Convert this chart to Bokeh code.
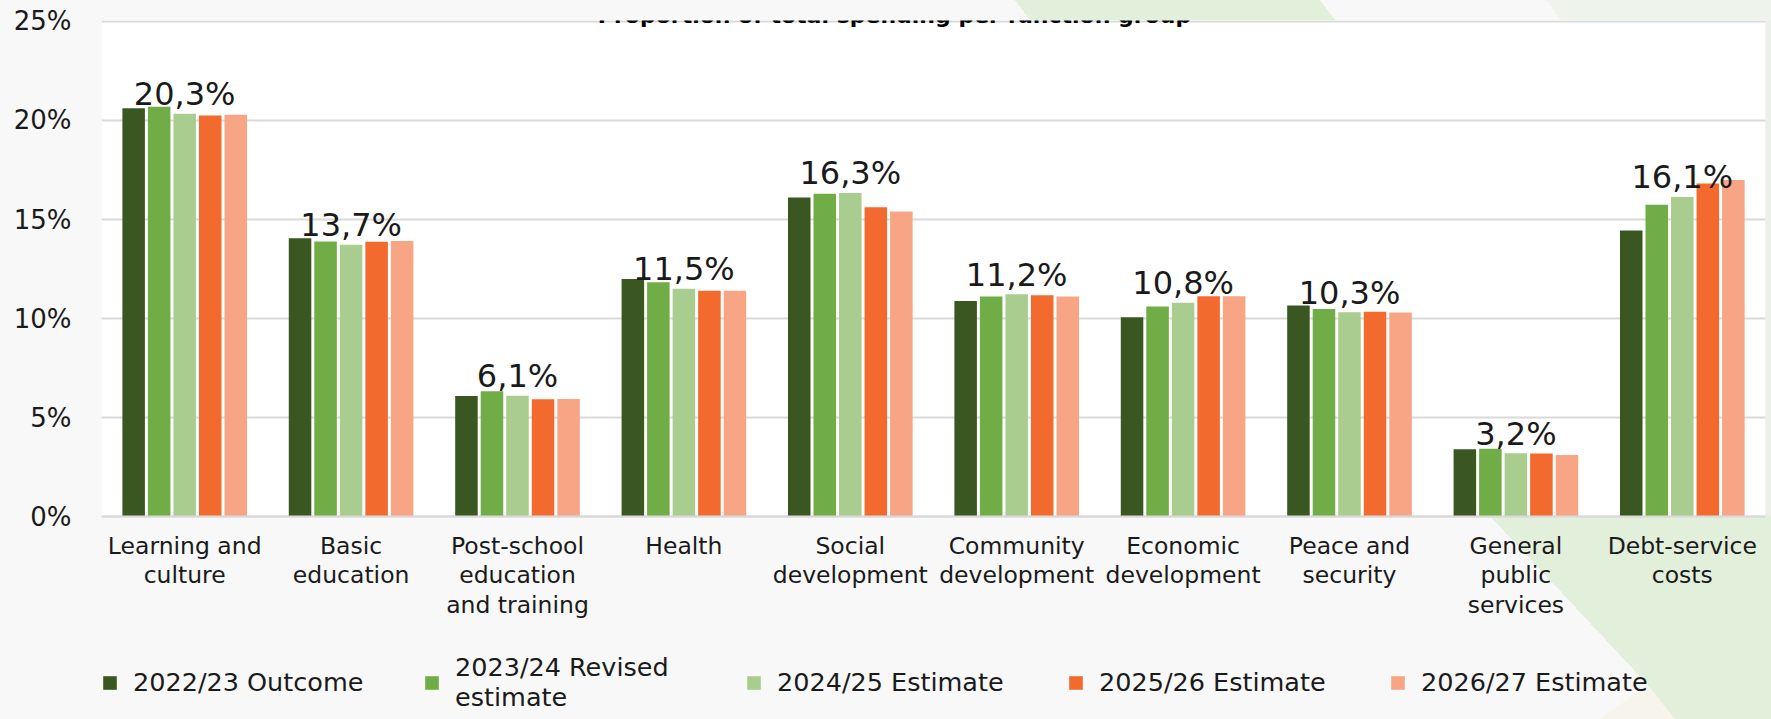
from bokeh.plotting import figure
from bokeh.models import (ColumnDataSource, FactorRange, Range1d, FixedTicker,
                          Legend, LegendItem, Label, BoxAnnotation)
from bokeh.transform import dodge
from bokeh.core.properties import value
from bokeh.embed import file_html
from bokeh.resources import INLINE

# ---------------- data ----------------
categories = [
    "Learning and\nculture",
    "Basic\neducation",
    "Post-school\neducation\nand training",
    "Health",
    "Social\ndevelopment",
    "Community\ndevelopment",
    "Economic\ndevelopment",
    "Peace and\nsecurity",
    "General\npublic\nservices",
    "Debt-service\ncosts",
]
series_names = [
    "2022/23 Outcome",
    "2023/24 Revised\nestimate",
    "2024/25 Estimate",
    "2025/26 Estimate",
    "2026/27 Estimate",
]
outcome_2022_23 = [20.62, 14.05, 6.09, 12.00, 16.11, 10.88, 10.06, 10.66, 3.40, 14.44]
revised_2023_24 = [20.69, 13.89, 6.32, 11.83, 16.30, 11.11, 10.60, 10.48, 3.42, 15.74]
estimate_2024_25 = [20.34, 13.72, 6.10, 11.50, 16.34, 11.23, 10.80, 10.32, 3.20, 16.14]
estimate_2025_26 = [20.25, 13.87, 5.92, 11.40, 15.62, 11.17, 11.12, 10.34, 3.18, 16.82]
estimate_2026_27 = [20.29, 13.92, 5.93, 11.40, 15.40, 11.11, 11.12, 10.30, 3.10, 16.99]
series_values = [outcome_2022_23, revised_2023_24, estimate_2024_25,
                 estimate_2025_26, estimate_2026_27]
colors = ["#3a5722", "#70ad47", "#a9cd8f", "#f26a2d", "#f7a584"]
y_ticks = [0, 5, 10, 15, 20, 25]
y_tick_labels = ["0%", "5%", "10%", "15%", "20%", "25%"]
title_text = "Proportion of total spending per function group"

FONT = "DejaVu Sans"
TXT = "#1a1a1a"
GREEN_BG = "#e2efda"
CREAM_BG = "#f7f4ec"

# ---------------- figure ----------------
# the frame reaches the bottom of the canvas so that the legend below the
# bars is not clipped; the white plot area is a box from 0 % upwards
p = figure(x_range=FactorRange(factors=categories), y_range=Range1d(-10.2525, 25.0505),
           width=1771, height=719, output_backend="svg", toolbar_location=None,
           min_border_left=101, min_border_right=6, min_border_top=20,
           min_border_bottom=0)
p.border_fill_color = None
p.background_fill_color = None
p.outline_line_color = None
p.add_layout(BoxAnnotation(bottom=0, fill_color="white", fill_alpha=1,
                           line_color=None, level="image"))

# decorative page background (CSS, behind the transparent canvas)
G, C = GREEN_BG, CREAM_BG
layers = [
    (f"linear-gradient(to bottom right, transparent 50%, {C} 50%)", "1600px 685px", "48px 34px"),
    (f"linear-gradient(to top right, {C} 50%, {G} 50%)", "1648px 685px", "27px 34px"),
    (f"linear-gradient({G}, {G})", "1675px 685px", "96px 34px"),
    (f"linear-gradient(to top right, transparent 50%, {G} 50%)", "1490px 516px", "158px 169px"),
    (f"linear-gradient({G}, {G})", "1648px 516px", "123px 169px"),
    (f"linear-gradient(53.13deg, transparent 12px, {G} 12px, {G} 256px, transparent 256px)", "1015px 0px", "323px 20px"),
    ("linear-gradient(53.13deg, transparent 12px, #eef4ec 12px)", "1546px 0px", "225px 20px"),
    ("linear-gradient(#ebf0e9, #ebf0e9)", "1765px 0px", "6px 719px"),
]
p.styles = {
    "background-color": "#f8f8f8",
    "background-image": ", ".join(l[0] for l in layers),
    "background-position": ", ".join(l[1] for l in layers),
    "background-size": ", ".join(l[2] for l in layers),
    "background-repeat": "no-repeat",
}

data = dict(cat=categories)
for i, vals in enumerate(series_values):
    data[f"s{i}"] = vals
src = ColumnDataSource(data)

pitch = 0.1534
bw = 0.1354
renderers = []
for i, c in enumerate(colors):
    r = p.vbar(x=dodge("cat", (i - 2) * pitch, range=p.x_range), top=f"s{i}",
               bottom=0, width=bw, source=src, fill_color=c, line_color=None)
    renderers.append(r)

# data labels (value of the 2024/25 estimate), floated just above its bar
lbl_src = ColumnDataSource(dict(
    cat=categories,
    y=estimate_2024_25,
    text=[f"{v:.1f}".replace(".", ",") + "%" for v in estimate_2024_25],
))
p.text(x="cat", y=dodge("y", 0.985, range=p.y_range), text="text", source=lbl_src,
       text_align="center", text_baseline="alphabetic", text_font=value(FONT),
       text_font_size="32px", text_color=TXT)

# axes
p.yaxis.ticker = FixedTicker(ticks=y_ticks)
p.yaxis.major_label_overrides = {t: l for t, l in zip(y_ticks, y_tick_labels)}
p.yaxis.axis_line_color = None
p.yaxis.major_tick_line_color = None
p.yaxis.minor_tick_line_color = None
p.yaxis.major_tick_out = 0
p.yaxis.major_label_standoff = 30
p.yaxis.major_label_text_font = FONT
p.yaxis.major_label_text_font_size = "26px"
p.yaxis.major_label_text_color = TXT

p.xaxis.fixed_location = 0
p.xaxis.axis_line_color = "#d9d9d9"
p.xaxis.axis_line_width = 2
p.xaxis.major_tick_line_color = None
p.xaxis.major_tick_out = 0
p.xaxis.major_label_standoff = 15
p.xaxis.major_label_text_font = FONT
p.xaxis.major_label_text_font_size = "23.5px"
p.xaxis.major_label_text_color = TXT
p.xaxis.major_label_text_line_height = 1.06

p.xgrid.grid_line_color = None
p.ygrid.grid_line_color = "#d9d9d9"
p.ygrid.grid_line_width = 2
p.ygrid.ticker = FixedTicker(ticks=y_ticks)

# legend (inside the tall frame, below the category labels)
legend = Legend(
    items=[LegendItem(label=value(n), renderers=[r]) for n, r in zip(series_names, renderers)],
    orientation="horizontal", location=(0, 7),
    glyph_width=17, glyph_height=17, label_standoff=15, spacing=0,
    label_width=290, padding=0, margin=0,
    border_line_color=None, background_fill_alpha=0,
    label_text_font=FONT, label_text_font_size="25.5px", label_text_color=TXT,
    label_text_line_height=1.03,
)
p.add_layout(legend)

# title
p.add_layout(Label(x=793, y=704.5, x_units="screen", y_units="screen", text=title_text,
                   text_align="center", text_baseline="alphabetic",
                   text_font=FONT, text_font_style="bold", text_font_size="22px",
                   text_color="black"))

open("out.html", "w").write(file_html(p, INLINE))
